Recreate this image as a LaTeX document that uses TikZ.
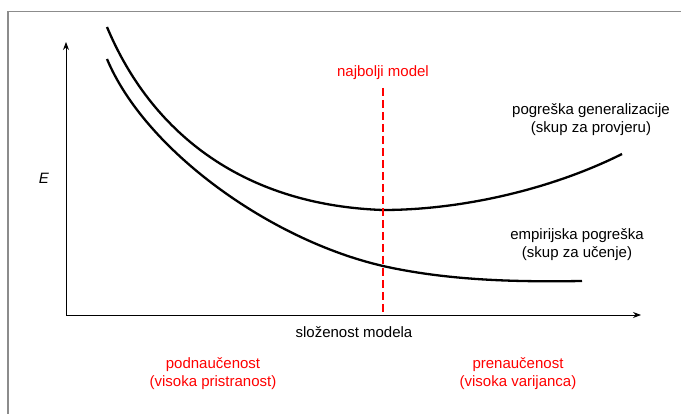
\documentclass[tikz,border=0pt]{standalone}
\usepackage{fontspec}
\setmainfont{Liberation Sans}
\usetikzlibrary{arrows.meta}
\definecolor{framegray}{HTML}{8C8C8C}
\definecolor{labelred}{HTML}{FF0000}

\begin{document}
\begin{tikzpicture}[x=1pt, y=-1pt,
    axis/.style    = {-{Stealth[length=8pt, width=6pt]}, line width=0.9pt},
    errcurve/.style = {line width=2.3pt},
    bestline/.style = {draw=labelred, line width=1.8pt, dash pattern=on 8pt off 4pt},
    lbl/.style     = {font=\fontsize{15}{18}\selectfont, align=center, inner sep=0pt},
    redlbl/.style  = {lbl, text=labelred}
  ]
  \useasboundingbox (0,0) rectangle (681,414);

  % ── Frame ───────────────────────────────────────────────────────────────
  \draw[framegray, line width=1.3pt] (8,414) -- (8,11.5) -- (681,11.5);

  % ── Axes ────────────────────────────────────────────────────────────────
  \coordinate (O)    at (66,315);
  \coordinate (ytop) at (66,42);
  \coordinate (xend) at (641,315);
  \draw[axis] (O) -- (ytop);
  \draw[axis] (O) -- (xend);

  \node[lbl, font=\fontsize{15}{18}\selectfont\itshape] (elbl) at (44,178) {E};
  \node[lbl] (xlbl) at (354,332) {složenost modela};

  % ── Error curves ────────────────────────────────────────────────────────
  \coordinate (gstart) at (107,27);
  \coordinate (gmin)   at (383,210);
  \coordinate (gend)   at (622,154);
  \draw[errcurve] (gstart) .. controls (150,130) and (240,205) .. (gmin)
                           .. controls (460,210) and (550,190) .. (gend);

  \coordinate (estart) at (107,59);
  \coordinate (emid)   at (383,266);
  \coordinate (eend)   at (582,281);
  \draw[errcurve] (estart) .. controls (145,150) and (270,240) .. (emid)
                           .. controls (450,281) and (520,282) .. (eend);

  \node[lbl] (genlbl) at (591,120) {pogreška generalizacije\\(skup za provjeru)};
  \node[lbl] (emplbl) at (577,245) {empirijska pogreška\\(skup za učenje)};

  % ── Best model ──────────────────────────────────────────────────────────
  \node[redlbl] (best) at (383,73) {najbolji model};
  \coordinate (btop) at (383,88);
  \draw[bestline] (btop) -- (btop |- O);

  \node[redlbl] (under) at (213,374) {podnaučenost\\(visoka pristranost)};
  \node[redlbl] (over)  at (518,374) {prenaučenost\\(visoka varijanca)};

\end{tikzpicture}
\end{document}
